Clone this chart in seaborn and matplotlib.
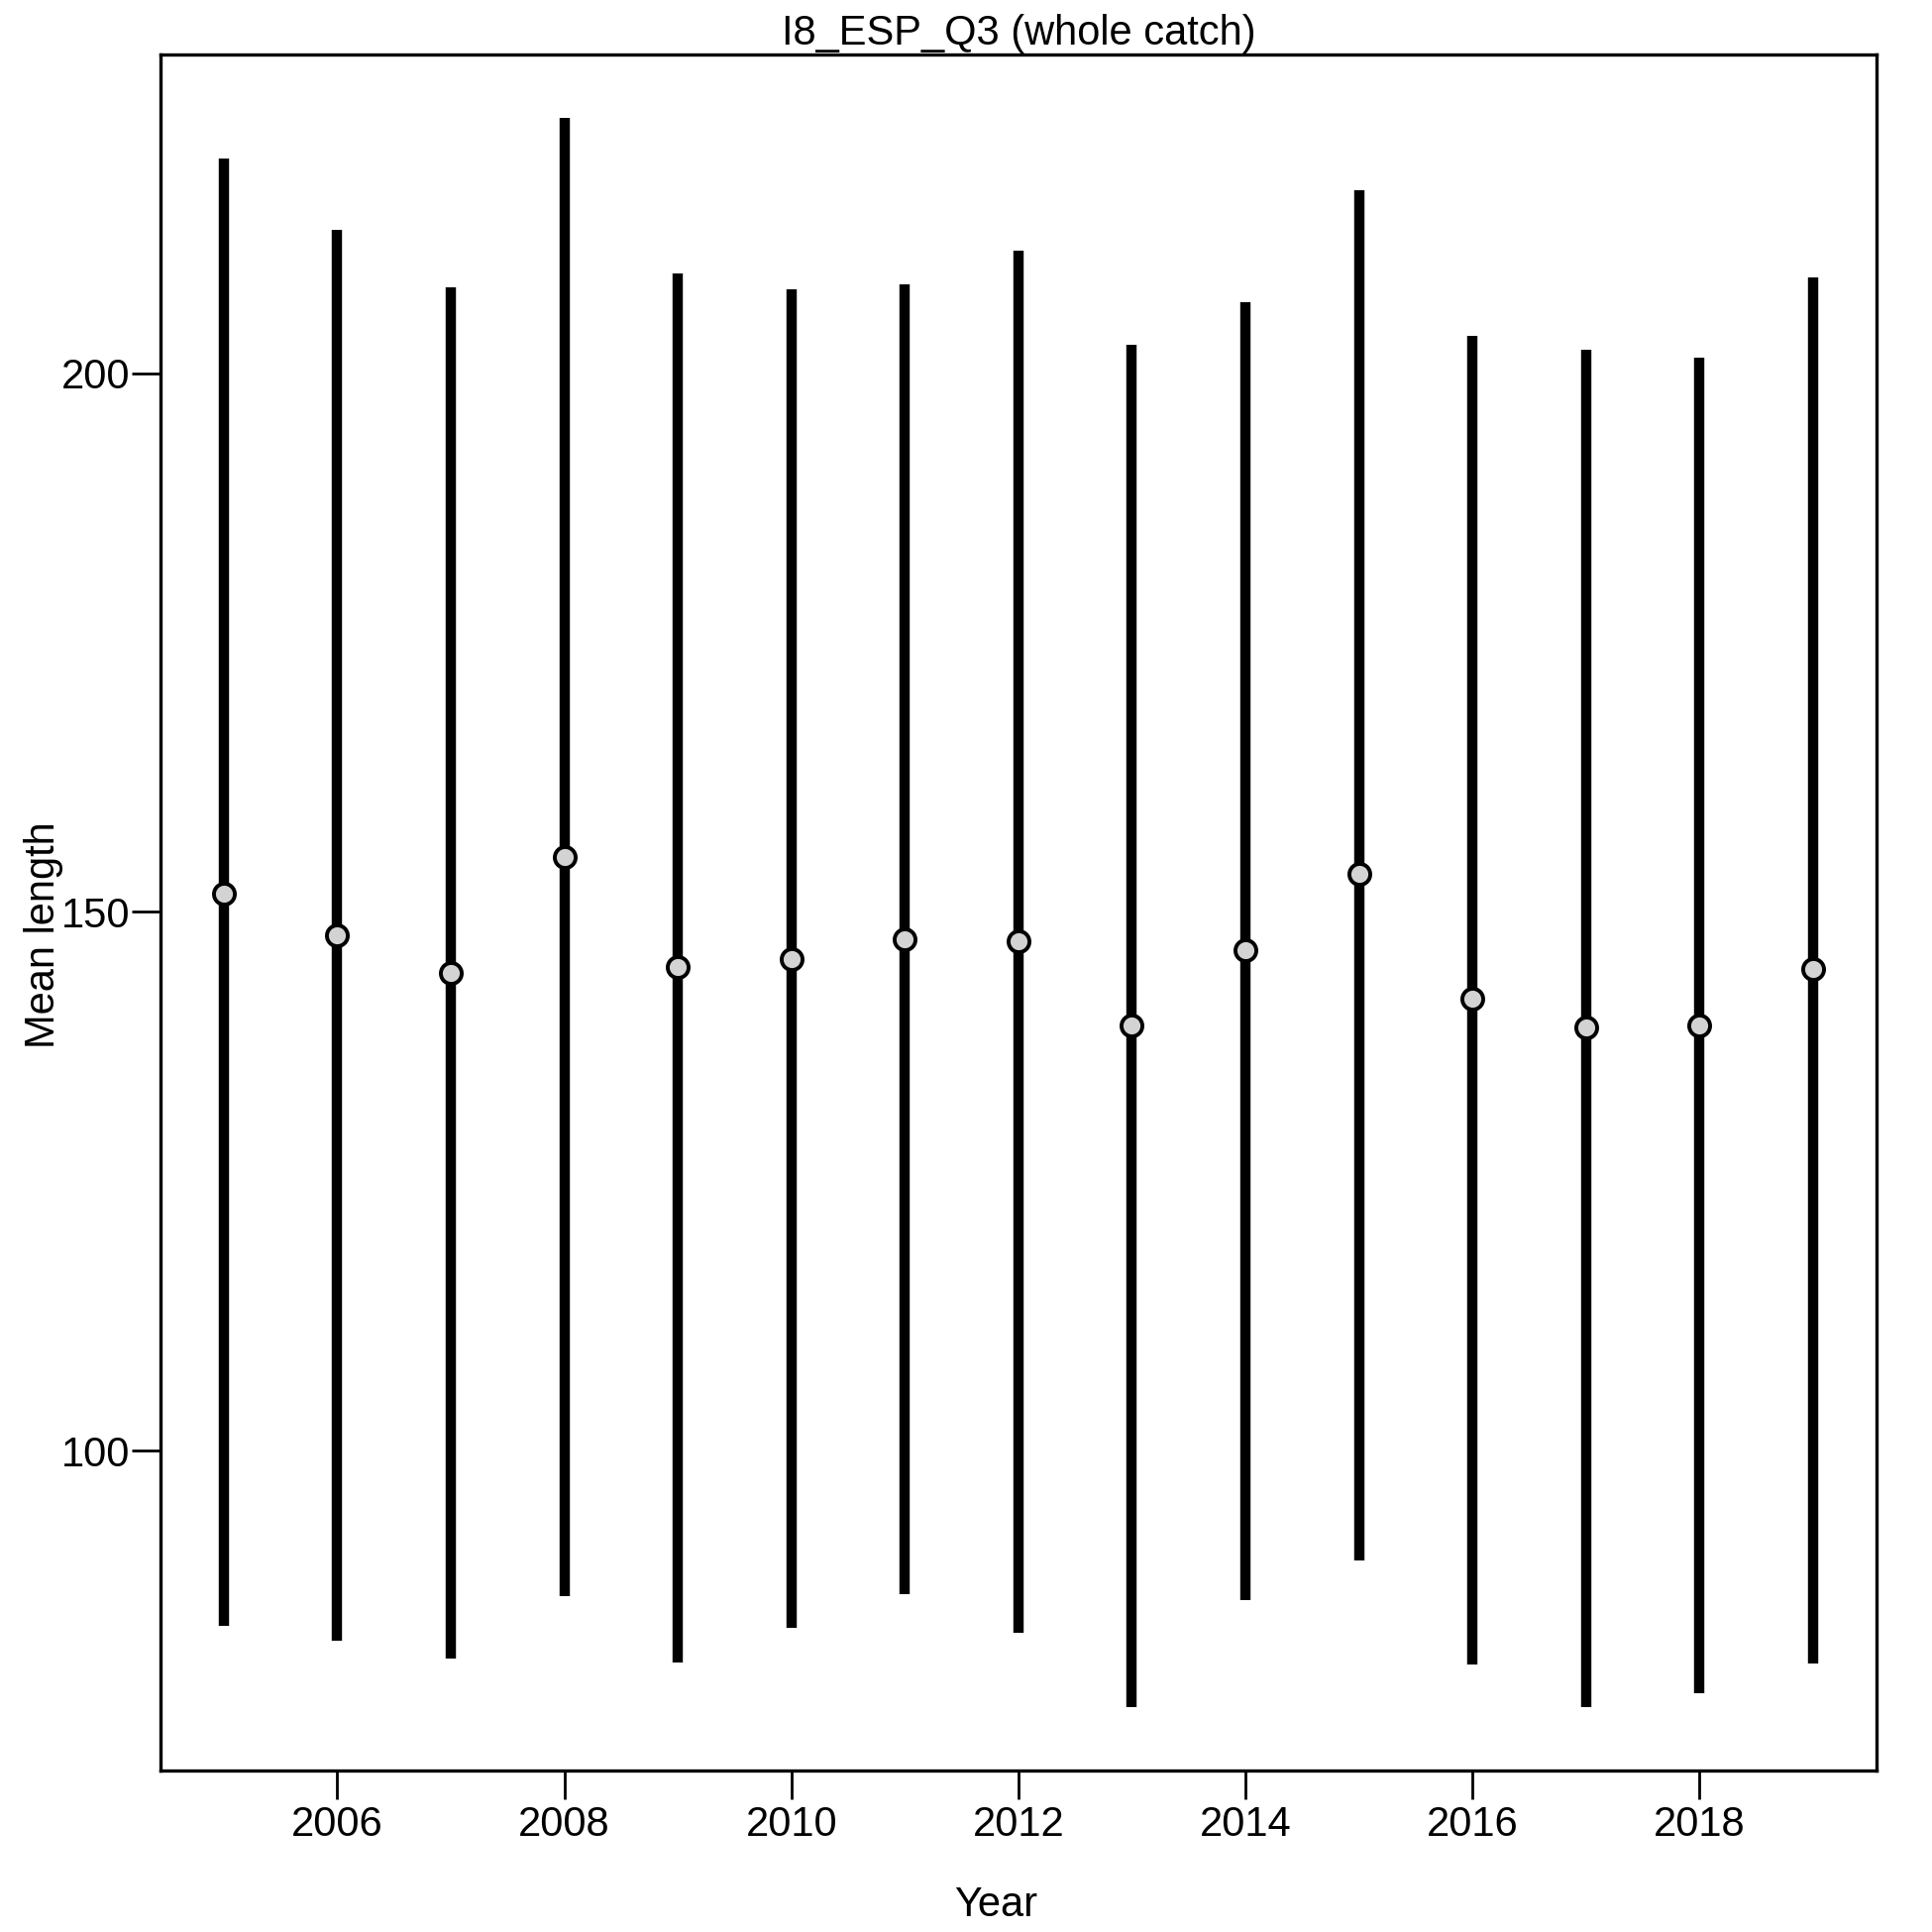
import matplotlib
matplotlib.use("Agg")
import matplotlib.pyplot as plt
import seaborn as sns
import pandas as pd

years = [2005, 2006, 2007, 2008, 2009, 2010, 2011, 2012, 2013, 2014, 2015, 2016, 2017, 2018, 2019]
mean_len = [151.7, 147.8, 144.3, 155.1, 144.9, 145.6, 147.5, 147.3, 139.5, 146.4, 153.5, 141.9, 139.3, 139.5, 144.7]
upper = [219.9, 213.3, 208.0, 223.7, 209.3, 207.8, 208.2, 211.4, 202.6, 206.6, 217.0, 203.5, 202.2, 201.4, 208.9]
lower = [83.7, 82.3, 80.7, 86.5, 80.3, 83.5, 86.7, 83.1, 76.2, 86.1, 89.8, 80.1, 76.2, 77.5, 80.2]
x_ticks = [2006, 2008, 2010, 2012, 2014, 2016, 2018]
y_ticks = [100, 150, 200]

df = pd.DataFrame({"Year": years, "Mean": mean_len, "Lo": lower, "Hi": upper})

sns.set_style("white")
plt.rcParams["font.family"] = ["Liberation Sans", "DejaVu Sans"]
plt.rcParams["text.color"] = "black"
plt.rcParams["axes.labelcolor"] = "black"

fig = plt.figure(figsize=(19.5, 19.5), dpi=100)
ax = fig.add_axes([0.0829, 0.0836, 0.8884, 0.8883])

ax.vlines(df["Year"], df["Lo"], df["Hi"], colors="black", linewidth=7.5, zorder=2)
sns.scatterplot(data=df, x="Year", y="Mean", ax=ax, s=230, color="#d3d3d3",
                edgecolor="black", linewidth=2.8, zorder=3, legend=False)

# R-style 4% padding
span_x = max(years) - min(years)
ax.set_xlim(min(years) - 0.04 * span_x, max(years) + 0.04 * span_x)
ymin, ymax = min(lower), max(upper)
span_y = ymax - ymin
ax.set_ylim(ymin - 0.04 * span_y, ymax + 0.04 * span_y)

ax.set_xticks(x_ticks)
ax.set_yticks(y_ticks)
ax.tick_params(axis="both", direction="out", length=21, width=2, labelsize=30,
               color="black", labelcolor="black", left=True, bottom=True)
ax.tick_params(axis="x", pad=4)
ax.tick_params(axis="y", pad=1)
for sp in ax.spines.values():
    sp.set_visible(True)
    sp.set_color("black")
    sp.set_linewidth(2.4)

ax.set_xlabel("Year", fontsize=30, labelpad=30, x=0.487)
ax.set_ylabel("Mean length", fontsize=30, labelpad=-2, y=0.487)
ax.set_title("I8_ESP_Q3 (whole catch)", fontsize=30, pad=7)

fig.savefig("out.png", dpi=100)
plt.close(fig)
